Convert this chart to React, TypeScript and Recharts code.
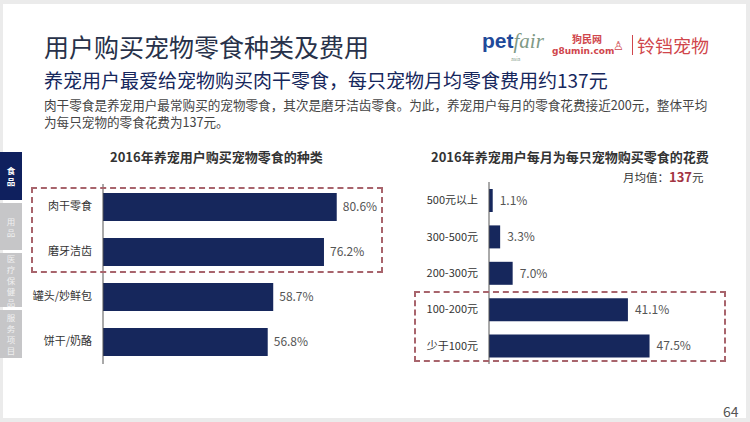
import React from 'react';
import { BarChart, Bar, XAxis, YAxis, LabelList } from 'recharts';

const snackTypes = ['肉干零食', '磨牙洁齿', '罐头/妙鲜包', '饼干/奶酪'];
const snackShares = [80.6, 76.2, 58.7, 56.8];

const spendRanges = ['500元以上', '300-500元', '200-300元', '100-200元', '少于100元'];
const spendShares = [1.1, 3.3, 7.0, 41.1, 47.5];

const sideTabs = ['食品', '用品', '医疗保健品', '服务项目'];

const typeData = snackTypes.map((name, i) => ({ name, value: snackShares[i] }));
const spendData = spendRanges.map((name, i) => ({ name, value: spendShares[i] }));

const FONT = '"Noto Sans CJK SC", "Noto Sans", sans-serif';
const NAVY = '#16275c';
const pct = (v: any) => `${Number(v).toFixed(1)}%`;

const abs = (left: number, top: number, extra: React.CSSProperties = {}): React.CSSProperties => ({
    position: 'absolute',
    left,
    top,
    whiteSpace: 'nowrap',
    ...extra,
});

const tabBoxes = [
    { top: 152, height: 48 },
    { top: 203, height: 47 },
    { top: 253, height: 54 },
    { top: 310, height: 48 },
];

const App = () => {
    return (
        <div style={{ position: 'absolute', left: 0, top: 0, width: 750, height: 422, background: '#ebebeb', fontFamily: FONT, overflow: 'hidden' }}>
            <div style={{ position: 'absolute', left: 3, top: 4, width: 743, height: 414, background: '#fff' }} />

            {/* headings */}
            <div style={abs(44, 30, { fontSize: 25, color: '#28324a', lineHeight: '32px' })}>用户购买宠物零食种类及费用</div>
            <div style={abs(44, 67, { fontSize: 19, color: NAVY, lineHeight: '26px', fontWeight: 400 })}>
                养宠用户最爱给宠物购买肉干零食，每只宠物月均零食费用约137元
            </div>
            <div style={abs(44, 96, { fontSize: 12.6, color: '#444', lineHeight: '17px' })}>
                肉干零食是养宠用户最常购买的宠物零食，其次是磨牙洁齿零食。为此，养宠用户每月的零食花费接近200元，整体平均
            </div>
            <div style={abs(44, 113, { fontSize: 12.6, color: '#444', lineHeight: '17px' })}>为每只宠物的零食花费为137元。</div>

            {/* logos */}
            <div style={abs(482, 28, { fontFamily: '"Liberation Sans", Arial, sans-serif', fontSize: 21, lineHeight: '26px' })}>
                <span style={{ color: '#1f4a9a', fontWeight: 700 }}>pet</span>
                <span style={{ color: '#7f9a86', fontStyle: 'italic', fontFamily: '"Liberation Serif", serif' }}>fair</span>
            </div>
            <div style={abs(511, 56, { fontSize: 5, color: '#7f9a86', lineHeight: '6px' })}>asia</div>
            <div style={abs(572, 33, { fontSize: 10, color: '#d0464c', fontWeight: 700, lineHeight: '12px' })}>狗民网</div>
            <div style={abs(552, 45, { fontSize: 9, color: '#d0464c', fontWeight: 700, lineHeight: '12px', fontFamily: '"DejaVu Sans", sans-serif' })}>g8umin.com</div>
            <div style={abs(613, 37, { fontSize: 12, color: '#d0464c', lineHeight: '16px' })}>♙</div>
            <div style={{ position: 'absolute', left: 632, top: 35, width: 1, height: 20, background: '#d0464c' }} />
            <div style={abs(637, 33, { fontSize: 18, color: '#d0464c', lineHeight: '24px' })}>铃铛宠物</div>

            {/* side tabs */}
            {sideTabs.map((t, i) => {
                const chars = t.split('');
                const lh = 11;
                const start = tabBoxes[i].top + (tabBoxes[i].height - chars.length * lh) / 2;
                return (
                    <React.Fragment key={`tab-${i}`}>
                        <div
                            style={{
                                position: 'absolute',
                                left: 0,
                                top: tabBoxes[i].top,
                                width: 22,
                                height: tabBoxes[i].height,
                                background: i === 0 ? '#0f205e' : '#c6c6c8',
                            }}
                        />
                        {chars.map((c, j) => (
                            <div
                                key={`tab-${i}-${j}`}
                                style={{
                                    position: 'absolute',
                                    left: 0,
                                    top: start + j * lh,
                                    width: 22,
                                    height: lh,
                                    lineHeight: `${lh}px`,
                                    textAlign: 'center',
                                    fontSize: 8.5,
                                    fontWeight: i === 0 ? 700 : 400,
                                    color: i === 0 ? '#fff' : '#f0f0f0',
                                }}
                            >
                                {c}
                            </div>
                        ))}
                    </React.Fragment>
                );
            })}

            {/* left chart */}
            <div style={abs(110, 148, { fontSize: 13, fontWeight: 700, color: '#333', lineHeight: '18px', width: 206, textAlign: 'center' })}>
                2016年养宠用户购买宠物零食的种类
            </div>
            <div style={{ position: 'absolute', left: 0, top: 184 }}>
                <BarChart width={443} height={180} data={typeData} layout="vertical" margin={{ top: 0, right: 50, bottom: 0, left: 0 }}>
                    <XAxis type="number" domain={[0, 100]} hide />
                    <YAxis
                        type="category"
                        dataKey="name"
                        width={103}
                        tickLine={false}
                        tickSize={0}
                        tickMargin={11}
                        axisLine={{ stroke: '#555', strokeWidth: 1 }}
                        tick={{ fill: '#333', fontSize: 11, fontFamily: FONT }}
                    />
                    <Bar dataKey="value" fill={NAVY} barSize={28} isAnimationActive={false}>
                        <LabelList dataKey="value" position="right" offset={6} formatter={pct} style={{ fill: '#555', fontSize: 12, fontFamily: FONT }} />
                    </Bar>
                </BarChart>
            </div>
            <div style={{ position: 'absolute', left: 31, top: 187, width: 348, height: 82, border: '2px dashed #a8646c' }} />

            {/* right chart */}
            <div style={abs(431, 148, { fontSize: 13, fontWeight: 700, color: '#333', lineHeight: '18px', width: 268, textAlign: 'center' })}>
                2016年养宠用户每月为每只宠物购买零食的花费
            </div>
            <div style={abs(623, 169, { fontSize: 11.5, color: '#333', lineHeight: '16px' })}>
                月均值：<span style={{ color: '#a33542', fontWeight: 700, fontSize: 13 }}>137</span>元
            </div>
            <div style={{ position: 'absolute', left: 400, top: 182 }}>
                <BarChart width={308} height={182} data={spendData} layout="vertical" margin={{ top: 0, right: 50, bottom: 0, left: 0 }}>
                    <XAxis type="number" domain={[0, 50]} hide />
                    <YAxis
                        type="category"
                        dataKey="name"
                        width={89}
                        tickLine={false}
                        tickSize={0}
                        tickMargin={11}
                        axisLine={{ stroke: '#555', strokeWidth: 1 }}
                        tick={{ fill: '#333', fontSize: 11, fontFamily: FONT }}
                    />
                    <Bar dataKey="value" fill={NAVY} barSize={23} isAnimationActive={false}>
                        <LabelList dataKey="value" position="right" offset={7} formatter={pct} style={{ fill: '#555', fontSize: 12, fontFamily: FONT }} />
                    </Bar>
                </BarChart>
            </div>
            <div style={{ position: 'absolute', left: 414, top: 291, width: 308, height: 67, border: '2px dashed #a8646c' }} />

            <div style={abs(723, 402, { fontSize: 14, color: '#555', lineHeight: '18px' })}>64</div>
        </div>
    );
};

export default App;
